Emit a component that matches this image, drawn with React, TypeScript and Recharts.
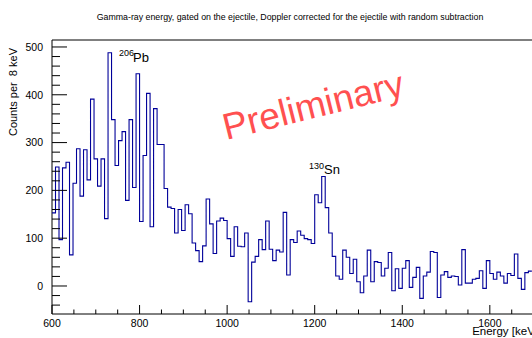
import React from "react";
import { ComposedChart, Line, XAxis, YAxis, ReferenceArea } from "recharts";

// Histogram: Gamma-ray energy, 8 keV bins starting at 600 keV
const HIST_MIN = 600;
const BIN_WIDTH = 8;
const counts: number[] = [
  153, 249, 97, 247, 259, 65, 215, 287, 188, 285,
  222, 391, 266, 209, 266, 141, 488, 348, 252, 304,
  323, 179, 348, 206, 444, 135, 273, 403, 124, 371,
  296, 296, 204, 165, 162, 111, 160, 116, 170, 151,
  90, 74, 51, 84, 182, 130, 68, 136, 142, 137,
  99, 62, 124, 83, 82, 111, -33, 50, 62, 97,
  76, 136, 77, 53, 75, 71, 154, 23, 97, 91,
  115, 106, 99, 97, 89, 191, 174, 229, 164, 111,
  62, 21, 14, 75, 60, 26, 56, 9, -14, 21,
  75, 9, 51, 49, 21, 37, 70, -10, 36, -5,
  37, 53, -3, 18, 39, -26, 21, 29, 72, 70,
  -24, 23, 30, 18, 21, 20, 2, 76, 6, 6,
  14, 16, 32, -5, 53, 26, 14, 29, 21, 6,
  26, 22, 67, 16, -7, 28, 31,
];

const X_DOMAIN: [number, number] = [600, 1710];
const Y_DOMAIN: [number, number] = [-58.6, 514.6];
const xTicks: number[] = [];
for (let v = 600; v <= 1700; v += 50) xTicks.push(v);
const yTicks: number[] = [];
for (let v = -40; v <= 500; v += 20) yTicks.push(v);

const data = counts.map((c, i) => ({ e: HIST_MIN + i * BIN_WIDTH, c }));
data.push({ e: HIST_MIN + counts.length * BIN_WIDTH, c: counts[counts.length - 1] });

const TITLE =
  "Gamma-ray energy, gated on the ejectile, Doppler corrected for the ejectile with random subtraction";
const FONT = "'Liberation Sans', Arial, Helvetica, sans-serif";

const YTick = (props: any) => {
  const { x, y, payload } = props;
  const v = payload.value as number;
  const major = v % 100 === 0;
  return (
    <g>
      <line x1={x} y1={y} x2={x + (major ? 15 : 8)} y2={y} stroke="#000" strokeWidth={1} />
      {major && (
        <text x={x - 9} y={y} dy="0.36em" textAnchor="end" fontSize={10.5} fontFamily={FONT} fill="#000">
          {v}
        </text>
      )}
    </g>
  );
};

const XTick = (props: any) => {
  const { x, y, payload } = props;
  const v = payload.value as number;
  const major = v % 200 === 0;
  return (
    <g>
      <line x1={x} y1={y} x2={x} y2={y - (major ? 9 : 4.5)} stroke="#000" strokeWidth={1} />
      {major && (
        <text x={x} y={y + 13} textAnchor="middle" fontSize={10.5} fontFamily={FONT} fill="#000">
          {v}
        </text>
      )}
    </g>
  );
};

export default function App() {
  return (
    <div style={{ position: "absolute", left: 0, top: 0, width: 532, height: 338, overflow: "hidden", background: "#fff" }}>
      <ComposedChart
        width={560}
        height={338}
        data={data}
        margin={{ top: 40, right: 22, bottom: 23, left: 51 }}
      >
        <XAxis
          dataKey="e"
          type="number"
          domain={X_DOMAIN}
          ticks={xTicks}
          allowDataOverflow
          height={1}
          axisLine={false}
          tickLine={false}
          tickSize={0}
          tickMargin={0}
          tick={(p: any) => <XTick {...p} />}
          interval={0}
        />
        <YAxis
          type="number"
          domain={Y_DOMAIN}
          ticks={yTicks}
          allowDataOverflow
          width={1}
          axisLine={false}
          tickLine={false}
          tickSize={0}
          tickMargin={0}
          tick={(p: any) => <YTick {...p} />}
          interval={0}
        />
        <ReferenceArea
          x1={X_DOMAIN[0]}
          x2={X_DOMAIN[1]}
          y1={Y_DOMAIN[0]}
          y2={Y_DOMAIN[1]}
          fill="none"
          stroke="#000"
          strokeWidth={1}
          ifOverflow="visible"
        />
        <Line
          dataKey="c"
          type="stepAfter"
          stroke="#000099"
          strokeWidth={1.1}
          dot={false}
          isAnimationActive={false}
        />
      </ComposedChart>
      <svg
        width={532}
        height={338}
        style={{ position: "absolute", left: 0, top: 0, pointerEvents: "none" }}
      >
        <text x={290} y={20} textAnchor="middle" fontSize={8.8} fontFamily={FONT} fill="#000">
          {TITLE}
        </text>
        <text
          x={0}
          y={0}
          transform="translate(17,48) rotate(-90)"
          textAnchor="end"
          fontSize={11}
          fontFamily={FONT}
          fill="#000"
          style={{ whiteSpace: "pre" }}
        >
          Counts per  8 keV
        </text>
        <text x={538} y={335} textAnchor="end" fontSize={11.5} fontFamily={FONT} fill="#000">
          Energy [keV]
        </text>
        <text
          x={313}
          y={118}
          transform="rotate(-14 313 105)"
          textAnchor="middle"
          fontSize={37}
          fontFamily={FONT}
          fill="#ff5050"
        >
          Preliminary
        </text>
        <text x={119} y={56} fontSize={9} fontFamily={FONT} fill="#000">206</text>
        <text x={133} y={62} fontSize={13} fontFamily={FONT} fill="#000">Pb</text>
        <text x={309} y={168.5} fontSize={9} fontFamily={FONT} fill="#000">130</text>
        <text x={324} y={174} fontSize={13} fontFamily={FONT} fill="#000">Sn</text>
      </svg>
    </div>
  );
}
